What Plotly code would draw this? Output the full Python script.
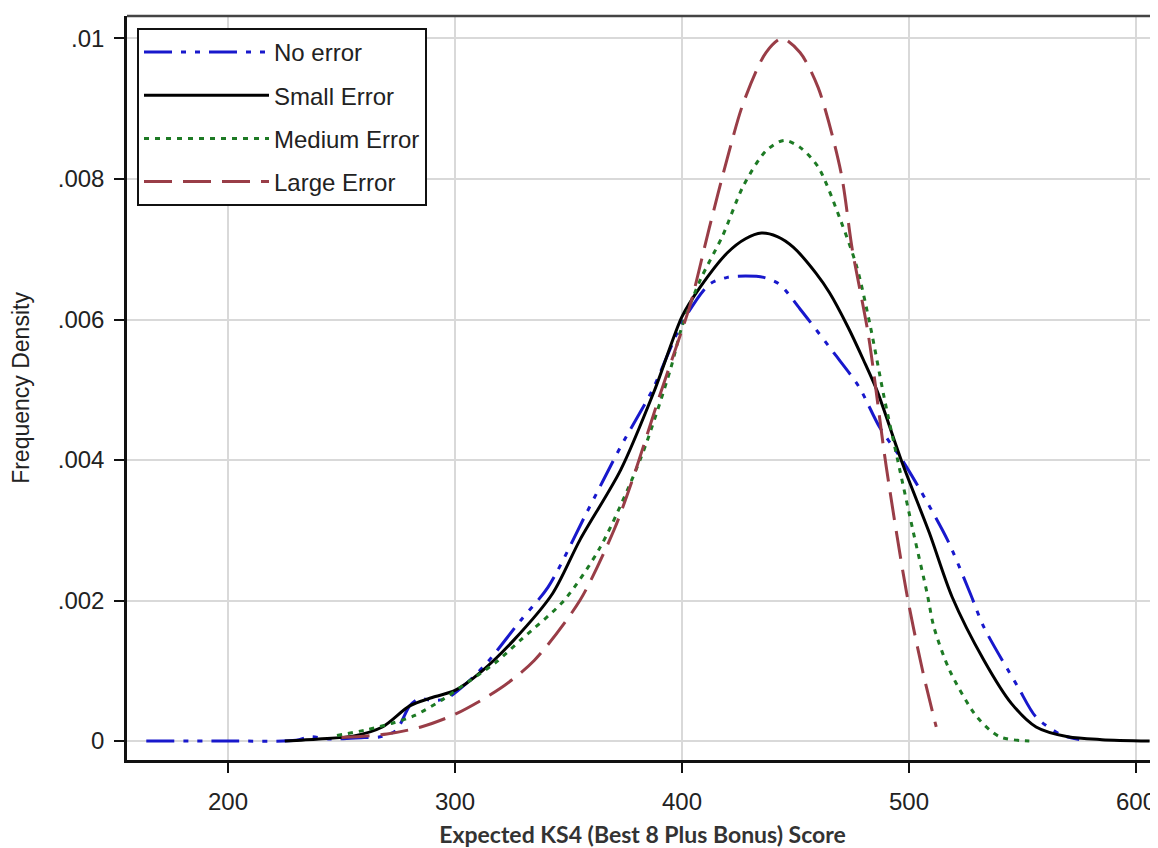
import plotly.graph_objects as go

# ---- data ----
x_no = [164, 200, 230, 236, 245, 260, 267, 274, 280, 284, 290, 296, 305, 314, 329, 341, 358, 373, 387, 394, 400,
        412, 420, 428, 436, 443, 452, 467, 478, 487, 497, 505, 517, 527, 533, 548, 556, 567, 575]
y_no = [0.0, 0.0, 0.00001, 0.00006, 0.00003, 0.00005, 0.00006, 0.00015, 0.0005, 0.0006, 0.00058, 0.0006, 0.00082,
        0.00111, 0.00172, 0.00219, 0.00325, 0.00419, 0.005, 0.00552, 0.00595, 0.0065, 0.0066, 0.00662, 0.0066,
        0.0065, 0.00615, 0.00552, 0.00504, 0.00447, 0.004, 0.00357, 0.00286, 0.0021, 0.00162, 0.00077, 0.00034,
        0.00009, 0.00002]

x_small = [225, 240, 255, 268, 280, 290, 300, 312, 326, 343, 355, 373, 388, 400, 408, 420, 428, 435, 442, 449,
           459, 465, 473, 480, 486, 497, 509, 519, 533, 545, 556, 570, 585, 606]
y_small = [0.0, 0.00003, 0.00007, 0.0002, 0.0005, 0.00062, 0.00072, 0.001, 0.00144, 0.0021, 0.00286, 0.00386,
           0.005, 0.00604, 0.00646, 0.00695, 0.00715, 0.00723, 0.00718, 0.00703, 0.00666, 0.00638, 0.0059,
           0.00542, 0.00498, 0.00396, 0.00296, 0.00205, 0.00115, 0.00054, 0.0002, 0.00006, 0.00002, 0.0]

x_med = [248, 261, 272, 282, 295, 307, 318, 329, 348, 364, 382, 395, 400, 408, 418, 427, 437, 445, 452, 460,
         470, 477, 483, 489, 495, 502, 508, 511, 518, 530, 540, 553]
y_med = [0.00008, 0.00016, 0.00025, 0.00036, 0.0006, 0.00087, 0.00112, 0.00144, 0.002, 0.00276, 0.00404,
         0.0053, 0.0059, 0.00656, 0.0072, 0.0079, 0.0084, 0.00855, 0.00845, 0.00817, 0.0074, 0.00675, 0.0059,
         0.0049, 0.004, 0.00296, 0.0021, 0.00162, 0.001, 0.00034, 0.00006, 0.0]

x_large = [250, 270, 285, 300, 320, 335, 355, 370, 378, 390, 400, 404, 412, 420, 427, 437, 444, 452, 460, 470,
           475, 482, 490, 499, 506, 512]
y_large = [0.00005, 0.0001, 0.0002, 0.00038, 0.00075, 0.00115, 0.002, 0.003, 0.0037, 0.0049, 0.00585, 0.00625,
           0.0073, 0.0083, 0.00908, 0.0098, 0.01, 0.0098, 0.0093, 0.0081, 0.007, 0.0058, 0.0039, 0.0021, 0.001,
           0.0002]

series_names = ["No error", "Small Error", "Medium Error", "Large Error"]
x_ticks = [200, 300, 400, 500, 600]
y_ticks = [0, 0.002, 0.004, 0.006, 0.008, 0.01]
y_tick_labels = ["0", ".002", ".004", ".006", ".008", ".01"]

# ---- styles ----
colors = ["#1818cc", "#000000", "#1d7a24", "#993d47"]
dashes = ["28px,9px,5px,9px,5px,9px", "solid", "5px,6px", "28px,11px"]

fig = go.Figure()
for i, (xs, ys) in enumerate([(x_no, y_no), (x_small, y_small), (x_med, y_med), (x_large, y_large)]):
    fig.add_trace(go.Scatter(
        x=xs, y=ys, mode="lines", name=series_names[i], legendgroup=str(i),
        line=dict(color=colors[i], width=3, dash=dashes[i], shape="spline", smoothing=0.8),
    ))

font_main = "Liberation Sans, Arial, sans-serif"
fig.update_layout(
    width=1150, height=840,
    margin=dict(l=119, r=0, t=8, b=88),
    paper_bgcolor="white", plot_bgcolor="white",
    font=dict(family=font_main, color="#222"),
    showlegend=True,
    legend=dict(
        x=0.0097, y=0.984, xanchor="left", yanchor="top",
        bgcolor="white", bordercolor="#111", borderwidth=2,
        font=dict(family=font_main, size=24, color="#222"),
        tracegroupgap=9, itemwidth=125,
    ),
    xaxis=dict(
        range=[155.5, 609.7], tickmode="array", tickvals=x_ticks,
        showgrid=True, gridcolor="#d9d9d9", gridwidth=1.5,
        showline=True, linecolor="#111", linewidth=2.5,
        ticks="outside", ticklen=10, tickwidth=2, tickcolor="#111", ticklabelstandoff=8,
        tickfont=dict(family=font_main, size=24, color="#222"),
        zeroline=False,
        title=dict(text="<b>Expected KS4 (Best 8 Plus Bonus) Score</b>",
                   font=dict(family="Lato, Open Sans, sans-serif", size=23, color="#333"), standoff=14),
    ),
    yaxis=dict(
        range=[-0.00027, 0.01032], tickmode="array", tickvals=y_ticks, ticktext=y_tick_labels,
        showgrid=True, gridcolor="#d9d9d9", gridwidth=1.5,
        showline=True, linecolor="#111", linewidth=2.5,
        ticks="outside", ticklen=10, tickwidth=2, tickcolor="#111", ticklabelstandoff=5,
        tickfont=dict(family=font_main, size=24, color="#222"),
        zeroline=False,
        title=dict(text="Frequency Density", font=dict(family=font_main, size=23, color="#222"), standoff=22),
    ),
    shapes=[dict(type="line", xref="paper", yref="paper", x0=0, x1=1, y0=1, y1=1,
                 line=dict(color="#444", width=2.5))],
)

fig.write_html("out.html")
